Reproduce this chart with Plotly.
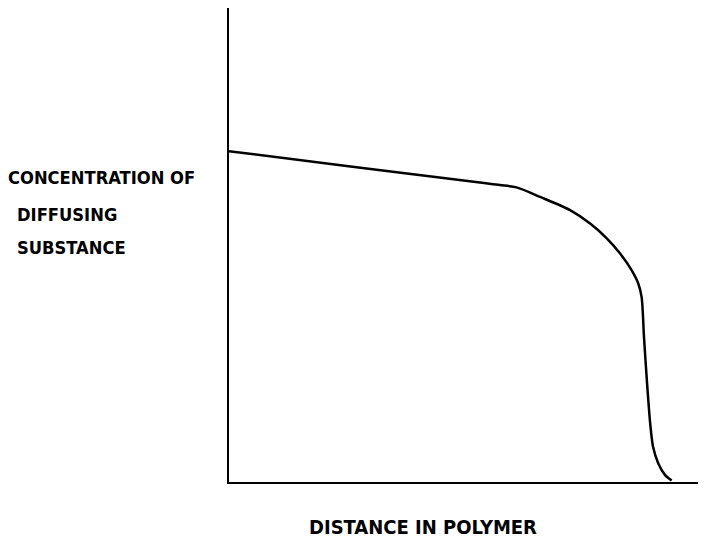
import plotly.graph_objects as go

# Curve (arbitrary units: x 0-100 across axis, y 0-100 up axis)
distance = [0, 26.3, 52.6, 56.8, 60.3, 65.2, 71.5, 75.7, 79.2, 82.0, 84.4, 85.8, 86.5,
            87.0, 87.6, 88.3, 88.9, 90.0, 91.4, 92.8]
concentration = [69.5, 66.2, 62.9, 62.4, 61.9, 59.9, 57.1, 54.3, 51.2, 48.0, 44.5, 41.7, 38.9,
                 30.5, 21.4, 12.3, 7.4, 3.9, 1.5, 0.3]

y_label_lines = ["CONCENTRATION OF", "DIFFUSING", "SUBSTANCE"]
x_label = "DISTANCE IN POLYMER"

FONT = "DejaVu Sans Condensed, DejaVu Sans, sans-serif"

fig = go.Figure()
fig.add_trace(go.Scatter(
    x=distance, y=concentration, mode="lines",
    line=dict(color="black", width=2.5, shape="spline", smoothing=0.8),
    hoverinfo="skip", showlegend=False,
))

fig.update_layout(
    width=706, height=534,
    margin=dict(l=221, r=0, t=0, b=60),
    paper_bgcolor="white", plot_bgcolor="white",
    xaxis=dict(range=[0, 101.68], showline=True, linecolor="black", linewidth=2,
               showgrid=False, zeroline=False, showticklabels=False, ticks=""),
    yaxis=dict(range=[0, 99.58], showline=True, linecolor="black", linewidth=2,
               showgrid=False, zeroline=False, showticklabels=False, ticks=""),
)

ann_font = dict(family=FONT, size=18.2, color="black", weight="bold")
y_pos = [(-0.4598, 0.6424), (-0.4412, 0.5654), (-0.4412, 0.4947)]
for text, (px, py) in zip(y_label_lines, y_pos):
    fig.add_annotation(text=text, xref="paper", yref="paper", x=px, y=py,
                       xanchor="left", yanchor="middle", showarrow=False, font=ann_font)

fig.add_annotation(text=x_label, xref="paper", yref="paper", x=0.4010, y=-0.0939,
                   xanchor="center", yanchor="middle", showarrow=False,
                   font=dict(family=FONT, size=20, color="black", weight="bold"))

fig.write_html("out.html")
